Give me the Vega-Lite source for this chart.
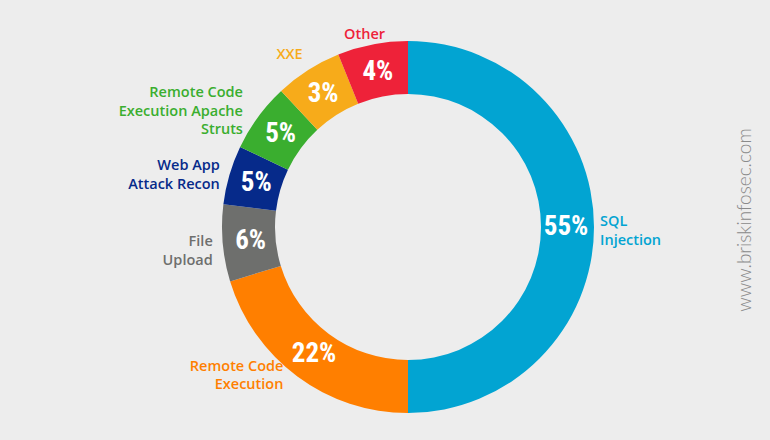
{
  "$schema": "https://vega.github.io/schema/vega-lite/v6.json",
  "width": 770,
  "height": 440,
  "autosize": {"type": "fit", "contains": "padding"},
  "padding": {"left": 46, "top": 14, "right": 0, "bottom": 0},
  "background": "#ededed",
  "config": {"view": {"stroke": null}},
  "datasets": {
    "attacks": [
      {"cat": "SQL Injection", "label": "SQL\nInjection", "pct": "55%", "arc": 180, "i": 1},
      {"cat": "Remote Code Execution", "label": "Remote Code\nExecution", "pct": "22%", "arc": 73, "i": 2},
      {"cat": "File Upload", "label": "File\nUpload", "pct": "6%", "arc": 24, "i": 3},
      {"cat": "Web App Attack Recon", "label": "Web App\nAttack Recon", "pct": "5%", "arc": 18.5, "i": 4},
      {"cat": "Remote Code Execution Apache Struts", "label": "Remote Code\nExecution Apache\nStruts", "pct": "5%", "arc": 21.5, "i": 5},
      {"cat": "XXE", "label": "XXE", "pct": "3%", "arc": 21, "i": 6},
      {"cat": "Other", "label": "Other", "pct": "4%", "arc": 22, "i": 7}
    ],
    "mark": [{"t": "www.briskinfosec.com"}]
  },
  "layer": [
    {
      "data": {"name": "attacks"},
      "mark": {"type": "arc", "radius": 186, "radius2": 133, "stroke": null},
      "encoding": {
        "theta": {"field": "arc", "type": "quantitative", "stack": true},
        "order": {"field": "i", "type": "quantitative"},
        "color": {
          "field": "cat", "type": "nominal", "legend": null,
          "scale": {
            "domain": ["SQL Injection", "Remote Code Execution", "File Upload", "Web App Attack Recon", "Remote Code Execution Apache Struts", "XXE", "Other"],
            "range": ["#02a4d2", "#ff7f00", "#6e6f6d", "#062a8a", "#3aae2f", "#f7ab1a", "#ee2239"]
          }
        }
      }
    },
    {
      "data": {"name": "attacks"},
      "mark": {"type": "text", "radius": 158, "font": "'Roboto Condensed', 'Liberation Sans Narrow', 'Arial Narrow', Roboto, sans-serif", "fontSize": 27, "fontWeight": "bold", "align": "center", "baseline": "middle"},
      "encoding": {
        "theta": {"field": "arc", "type": "quantitative", "stack": true},
        "order": {"field": "i", "type": "quantitative"},
        "text": {"field": "pct"},
        "color": {"value": "#ffffff"}
      }
    },
    {
      "data": {"name": "attacks"},
      "mark": {
        "type": "text", "radius": 196, "lineBreak": "\n", "font": "'Open Sans', sans-serif", "fontSize": 14.5, "fontWeight": 600, "baseline": "middle", "lineHeight": 18.5,
        "align": {"expr": "datum.cat === 'SQL Injection' ? 'left' : (datum.cat === 'Other' ? 'center' : 'right')"},
        "dx": {"expr": "datum.cat === 'Remote Code Execution' ? -8 : (datum.cat === 'Remote Code Execution Apache Struts' ? -7 : (datum.cat === 'SQL Injection' ? -4 : (datum.cat === 'Other' ? -6 : 0)))"},
        "dy": {"expr": "-9 * (length(split(datum.label, '\\n')) - 1) + (datum.cat === 'Remote Code Execution' ? -9 : (datum.cat === 'File Upload' ? 7 : (datum.cat === 'XXE' ? -7 : (datum.cat === 'Web App Attack Recon' ? 3 : (datum.cat === 'SQL Injection' ? 4 : 0)))))"}
      },
      "encoding": {
        "theta": {"field": "arc", "type": "quantitative", "stack": true},
        "order": {"field": "i", "type": "quantitative"},
        "text": {"field": "label"},
        "color": {"field": "cat", "type": "nominal", "legend": null}
      }
    },
    {
      "data": {"name": "mark"},
      "mark": {"type": "text", "theta": 1.5708, "radius": 337, "angle": 270, "align": "center", "baseline": "middle", "dx": 7, "font": "Lato, 'Open Sans', sans-serif", "fontSize": 19, "fontWeight": 300, "fill": "#8a8a8a"},
      "encoding": {"text": {"field": "t"}}
    }
  ]
}
